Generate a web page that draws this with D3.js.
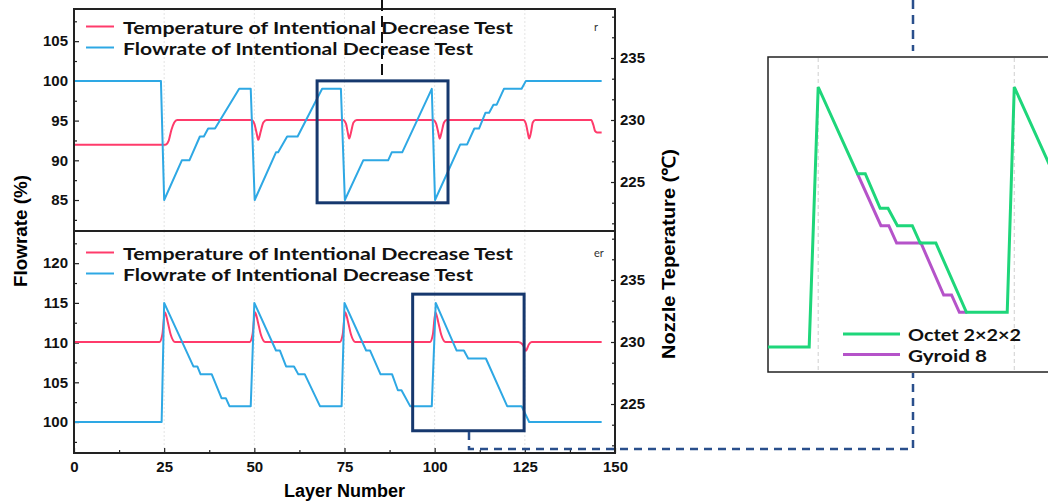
<!DOCTYPE html>
<html>
<head>
<meta charset="utf-8">
<script src="https://cdn.jsdelivr.net/npm/d3@7"></script>
<style>
body { margin: 0; background: #fff; }
svg { display: block; }
.tick text { font-family: "Liberation Sans", Arial, sans-serif; font-weight: bold; font-size: 15px; fill: #111; }
</style>
</head>
<body>
<div id="chart"></div>
<script>
var width = 1048;
var height = 501;

// layer number vs value
var topFlow = [[0,100],[24.1,100],[25,85],[29.9,90],[32,90],[34.9,93],[36,93],[37.2,94],[39.1,94],[45.8,99],[49,99],[50.1,85],
	[56,91],[56.6,91],[59.1,93],[62,93],[68.8,99],[74,99],[75.1,85],[80.2,90],[87.1,90],[88.1,91],[91,91],[99.2,99],[100.1,85],
	[107.1,92],[109,92],[111,94],[112.3,94],[114.1,96],[115.1,96],[116.3,97],[117.2,97],[119.2,99],[124.1,99],[125.3,100],[146.3,100]];
var topTemp = [[0,228],[25.3,228],[26.2,228.3],[27,229.2],[27.8,229.8],[28.6,230],
	[49.2,230],[50,229.7],[50.6,229],[51.1,228.4],[51.7,229],[52.5,229.8],[53.4,230],
	[74.6,230],[75.4,229.7],[75.9,229],[76.3,228.5],[76.8,229],[77.5,229.8],[78.4,230],
	[99.6,230],[100.4,229.7],[101,229],[101.4,228.5],[101.9,229],[102.6,229.8],[103.3,230],
	[124.6,230],[125.3,229.7],[125.8,229],[126.2,228.5],[126.7,229],[127.2,229.8],[127.9,230],
	[143.4,230],[144,229.6],[144.5,229.1],[145,229],[146.3,229]];
var botFlow = [[0,100],[24.3,100],[25,115],[33.1,107],[34.2,107],[35.1,106],[38.2,106],[40.9,103],[42.1,103],[43.1,102],[49,102],
	[50,115],[56,109],[57.1,109],[58.8,107],[61,107],[62.2,106],[64,106],[68.2,102],[74.2,102],
	[75,115],[81,109],[82.1,109],[85,106],[88.2,106],[89.8,104],[90.8,104],[93.2,102],[99.2,102],
	[100.3,115],[106.1,109],[108.1,109],[109.3,108],[114.2,108],[120.1,102],[124.1,102],[126.2,100],[146.3,100]];
var botTemp = [[0,230],[23.7,230],[24.5,230.6],[25.2,232.4],[26,231.6],[26.8,230.6],[28,230],
	[48.7,230],[49.5,230.6],[50.2,232.4],[51,231.6],[51.8,230.6],[53,230],
	[73.7,230],[74.5,230.6],[75.2,232.4],[76,231.6],[76.8,230.6],[78,230],
	[98.7,230],[99.5,230.6],[100.2,232.4],[101,231.6],[101.8,230.6],[103,230],
	[123.2,230],[124.4,229.8],[125.3,229.3],[126.1,229.8],[126.9,230],[146.3,230]];

// inset: zoom on one sawtooth
var insetOctet = [[18.6,100],[23.85,100],[25,115],[30,110],[31,110],[32.9,108],[33.9,108],[35.1,107],[37,107],[38,106],[40,106],
	[43.9,102],[49.1,102],[50,115],[55,110]];
var insetGyroid = [[30,110],[33,107],[34,107],[35,106],[38.1,106],[41,103],[42,103],[43,102],[44,102]];

var xTicks = [0,25,50,75,100,125,150];
var xMinor = [12.5,37.5,62.5,87.5,112.5,137.5];
var topTicks = [85,90,95,100,105];
var topMinor = [82.5,87.5,92.5,97.5,102.5,107.5];
var botTicks = [100,105,110,115,120];
var botMinor = [97.5,102.5,107.5,112.5,117.5,122.5];
var tempTicks = [225,230,235];
var tempMinor = [221.67,223.33,226.67,228.33,231.67,233.33,236.67,238.33];

var legendText = ["Temperature of Intentional Decrease Test", "Flowrate of Intentional Decrease Test"];
var insetLegend = ["Octet 2\u00d72\u00d72", "Gyroid 8"];

// annotation boxes in data units [layer0, layer1, value0, value1]
var topBox = [67.4, 103.7, 100, 84.65];
var botBox = [93.9, 124.8, 116.1, 98.9];

var red = "#ff3b6b", blue = "#2ea8e4", navy = "#16386e";
var green = "#1ed67a", purple = "#b553c9";
var fontSans = "'Liberation Sans', Arial, sans-serif";
var fontLeg = "Lato, 'Open Sans', sans-serif";

var L = 74, R = 615;

var svg = d3.select("#chart").append("svg")
	.attr("width", width).attr("height", height);

var x = d3.scaleLinear().domain([0,150]).range([L,R]);

var panels = [
	{top: 9, bottom: 231, flow: topFlow, temp: topTemp, yL: [81.1,109.05], ticks: topTicks, minor: topMinor, legY: 26.5, stray: "r"},
	{top: 231, bottom: 453, flow: botFlow, temp: botTemp, yL: [96.1,124.05], ticks: botTicks, minor: botMinor, legY: 252.5, stray: "er"}
];

panels.forEach(function(p, pi) {
	var y = d3.scaleLinear().domain(p.yL).range([p.bottom, p.top]);
	var yR = d3.scaleLinear().domain([221.05,238.95]).range([p.bottom, p.top]);
	p.y = y;

	var g = svg.append("g");

	// faint vertical grid
	g.selectAll(".grid").data([25,50,75,100,125]).enter().append("line")
		.attr("x1", d => x(d)).attr("x2", d => x(d))
		.attr("y1", p.top).attr("y2", p.bottom)
		.style("stroke", "#e4e4e4").style("stroke-width", 1).style("stroke-dasharray", "2,2");

	// left axis
	g.append("g").attr("transform", "translate(" + L + ",0)")
		.call(d3.axisLeft(y).tickValues(p.ticks).tickSizeInner(-5).tickSizeOuter(0).tickPadding(6))
		.call(a => a.select(".domain").remove());
	g.append("g").attr("transform", "translate(" + L + ",0)")
		.call(d3.axisLeft(y).tickValues(p.minor).tickSizeInner(-3).tickSizeOuter(0).tickFormat(""))
		.call(a => a.select(".domain").remove());

	// right axis
	g.append("g").attr("transform", "translate(" + R + ",0)")
		.call(d3.axisRight(yR).tickValues(tempTicks).tickSizeInner(-4).tickSizeOuter(0).tickPadding(5))
		.call(a => a.select(".domain").remove());
	g.append("g").attr("transform", "translate(" + R + ",0)")
		.call(d3.axisRight(yR).tickValues(tempMinor).tickSizeInner(-3).tickSizeOuter(0).tickFormat(""))
		.call(a => a.select(".domain").remove());

	if (pi == 1) {
		g.append("g").attr("transform", "translate(0," + p.bottom + ")")
			.call(d3.axisBottom(x).tickValues(xTicks).tickSizeInner(-5).tickSizeOuter(0).tickPadding(8))
			.call(a => a.select(".domain").remove());
		g.append("g").attr("transform", "translate(0," + p.bottom + ")")
			.call(d3.axisBottom(x).tickValues(xMinor).tickSizeInner(-3).tickSizeOuter(0).tickFormat(""))
			.call(a => a.select(".domain").remove());
	}
	g.selectAll(".tick line").style("stroke", "#222").style("stroke-width", 1.2);

	var tempLine = d3.line().x(d => x(d[0])).y(d => yR(d[1])).curve(d3.curveMonotoneX);
	var flowLine = d3.line().x(d => x(d[0])).y(d => y(d[1]));

	g.append("path").datum(p.temp).attr("d", tempLine)
		.style("fill", "none").style("stroke", red).style("stroke-width", 2);
	g.append("path").datum(p.flow).attr("d", flowLine)
		.style("fill", "none").style("stroke", blue).style("stroke-width", 2).style("stroke-linejoin", "round");

	// legend
	var colors = [red, blue];
	var widths = [390, 350];
	legendText.forEach(function(t, i) {
		var ly = p.legY + i * 21;
		g.append("line").attr("x1", 86).attr("x2", 114).attr("y1", ly).attr("y2", ly)
			.style("stroke", colors[i]).style("stroke-width", 2);
		g.append("text").attr("x", 123).attr("y", ly + 7)
			.attr("textLength", widths[i]).attr("lengthAdjust", "spacingAndGlyphs")
			.style("font-family", fontLeg).style("font-weight", 700).style("font-size", "17px")
			.style("fill", "#111").text(t);
	});
	g.append("text").attr("x", 594).attr("y", p.legY + 4)
		.style("font-family", fontLeg).style("font-size", "11px").style("fill", "#333").text(p.stray);
});

// frame
svg.append("path")
	.attr("d", "M" + L + "," + 9 + "H" + R + "V453H" + L + "Z M" + L + ",231H" + R)
	.style("fill", "none").style("stroke", "#222").style("stroke-width", 2);

// axis titles
svg.append("text")
	.attr("transform", "translate(27,231) rotate(-90)")
	.attr("text-anchor", "middle")
	.attr("textLength", 112).attr("lengthAdjust", "spacingAndGlyphs")
	.style("font-family", fontSans).style("font-weight", "bold").style("font-size", "18px")
	.text("Flowrate (%)");
svg.append("text")
	.attr("transform", "translate(675,254) rotate(-90)")
	.attr("text-anchor", "middle")
	.attr("textLength", 210).attr("lengthAdjust", "spacingAndGlyphs")
	.style("font-family", fontSans).style("font-weight", "bold").style("font-size", "18px")
	.text("Nozzle Teperature (\u2103)");
svg.append("text")
	.attr("x", (L + R) / 2).attr("y", 497)
	.attr("text-anchor", "middle")
	.style("font-family", fontSans).style("font-weight", "bold").style("font-size", "18px")
	.text("Layer Number");

// highlight boxes
function drawBox(b, y) {
	svg.append("rect")
		.attr("x", x(b[0])).attr("y", y(b[2]))
		.attr("width", x(b[1]) - x(b[0])).attr("height", y(b[3]) - y(b[2]))
		.style("fill", "none").style("stroke", navy).style("stroke-width", 3);
}
drawBox(topBox, panels[0].y);
drawBox(botBox, panels[1].y);

// black dashed leader above the top box
svg.append("line").attr("x1", 382).attr("x2", 382).attr("y1", 0).attr("y2", 80)
	.style("stroke", "#111").style("stroke-width", 2).style("stroke-dasharray", "11,5");

// navy dashed connectors to the inset
svg.append("path").attr("d", "M469,432V449H913V373")
	.style("fill", "none").style("stroke", "#2a4f8c").style("stroke-width", 2.5).style("stroke-dasharray", "8,6");
svg.append("path").attr("d", "M913,0V51")
	.style("fill", "none").style("stroke", "#2a4f8c").style("stroke-width", 2.5).style("stroke-dasharray", "9,6");

// inset
var ix = d3.scaleLinear().domain([18.6,54.3]).range([768,1048]);
var iy = d3.scaleLinear().domain([100,115]).range([347,87]);
var inset = svg.append("g");
inset.append("rect").attr("x", 768).attr("y", 57).attr("width", 290).attr("height", 315)
	.style("fill", "#fff").style("stroke", "#222").style("stroke-width", 1.5);
inset.selectAll(".ig").data([25,50]).enter().append("line")
	.attr("x1", d => ix(d)).attr("x2", d => ix(d)).attr("y1", 58).attr("y2", 371)
	.style("stroke", "#cfcfcf").style("stroke-width", 1).style("stroke-dasharray", "4,3");
var iline = d3.line().x(d => ix(d[0])).y(d => iy(d[1]));
inset.append("path").datum(insetGyroid).attr("d", iline)
	.style("fill", "none").style("stroke", purple).style("stroke-width", 3);
inset.append("path").datum(insetOctet).attr("d", iline)
	.style("fill", "none").style("stroke", green).style("stroke-width", 3);

var iw = [113, 79];
[green, purple].forEach(function(c, i) {
	var ly = 334 + i * 20.5;
	inset.append("line").attr("x1", 843).attr("x2", 900).attr("y1", ly).attr("y2", ly)
		.style("stroke", c).style("stroke-width", 3);
	inset.append("text").attr("x", 908).attr("y", ly + 7)
		.attr("textLength", iw[i]).attr("lengthAdjust", "spacingAndGlyphs")
		.style("font-family", fontLeg).style("font-weight", 700).style("font-size", "17px")
		.style("fill", "#111").text(insetLegend[i]);
});
</script>
</body>
</html>
